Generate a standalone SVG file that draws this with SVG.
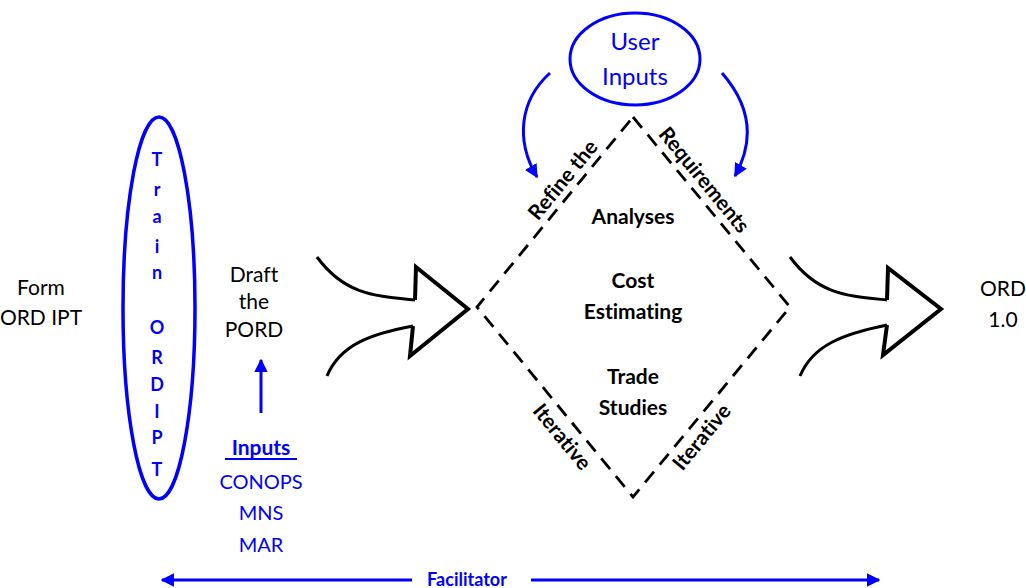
<svg xmlns="http://www.w3.org/2000/svg" width="1026" height="588" viewBox="0 0 1026 588">
<defs>
<style>
text{font-family:Lato,"Liberation Sans",sans-serif;text-anchor:middle;font-variant-ligatures:none}
.blk{fill:#000;font-size:21px}
.blu{fill:#0000ff}
.bold{font-weight:bold}
.inner{font-size:21px;font-weight:bold;fill:#000}
.side{font-size:21px;font-weight:bold;fill:#000}
.train{font-size:18px;font-weight:bold;fill:#0000ff}
.bigarrow{fill:none;stroke:#000;stroke-width:3;stroke-linejoin:miter}
.head{fill:none;stroke:#000;stroke-width:4;stroke-linejoin:miter}
.blueline{fill:none;stroke:#0000ff;stroke-width:3}
.dash{fill:none;stroke:#000;stroke-width:2.8;stroke-dasharray:14 9}
</style>
<marker id="ah" viewBox="0 0 10 10" refX="9" refY="5" markerWidth="4.5" markerHeight="4.5" orient="auto" markerUnits="strokeWidth">
<path d="M0,0 L10,5 L0,10 z" fill="#0000ff"/>
</marker>
</defs>
<rect width="1026" height="588" fill="#fff"/>

<g id="form">
<text class="blk" x="41" y="295">Form</text>
<text class="blk" x="41" y="325">ORD IPT</text>
</g>

<g id="train">
<ellipse cx="159" cy="308" rx="36" ry="191" fill="none" stroke="#0000ff" stroke-width="3.5"/>
<text class="train" x="157" y="166">T</text>
<text class="train" x="157" y="196">r</text>
<text class="train" x="157" y="223">a</text>
<text class="train" x="157" y="253">i</text>
<text class="train" x="157" y="279">n</text>
<text class="train" x="157" y="334">O</text>
<text class="train" x="157" y="364">R</text>
<text class="train" x="157" y="391">D</text>
<text class="train" x="157" y="418">I</text>
<text class="train" x="157" y="444">P</text>
<text class="train" x="157" y="476">T</text>
</g>

<g id="draft">
<text class="blk" x="254" y="282">Draft</text>
<text class="blk" x="254" y="309">the</text>
<text class="blk" x="254" y="337">PORD</text>
</g>

<g id="inputs">
<text class="blu bold" x="261" y="455" font-size="21">Inputs</text>
<line x1="225" y1="459" x2="297" y2="459" stroke="#0000ff" stroke-width="2"/>
<text class="blu" x="261" y="489" font-size="20">CONOPS</text>
<text class="blu" x="261" y="520" font-size="20">MNS</text>
<text class="blu" x="261" y="552" font-size="20">MAR</text>
</g>

<g id="user-inputs">
<ellipse cx="635" cy="59" rx="65" ry="46" fill="none" stroke="#0000ff" stroke-width="3"/>
<text class="blu" x="635" y="50" font-size="24">User</text>
<text class="blu" x="635" y="85" font-size="24">Inputs</text>
</g>

<g id="process">
<path class="dash" d="M633,117 L790,307 L633,497 L477,307 Z"/>
<text class="inner" x="633" y="224">Analyses</text>
<text class="inner" x="633" y="288">Cost</text>
<text class="inner" x="633" y="319">Estimating</text>
<text class="inner" x="633" y="384">Trade</text>
<text class="inner" x="633" y="415">Studies</text>
<text class="side" transform="translate(563,180) rotate(-50.6)" y="7">Refine the</text>
<text class="side" transform="translate(704,180) rotate(50.6)" y="7">Requirements</text>
<text class="side" transform="translate(562,437) rotate(50.6)" y="7">Iterative</text>
<text class="side" transform="translate(702,437) rotate(-50.6)" y="7">Iterative</text>
</g>

<g id="ord">
<text class="blk" x="1003" y="296" font-size="22">ORD</text>
<text class="blk" x="1003" y="327" font-size="22">1.0</text>
</g>

<g id="connectors">
<path class="bigarrow" d="M317,257 C345,295 375,296 415,300"/>
<path class="bigarrow" d="M413,326 C370,334 340,345 327,376"/>
<path class="head" d="M415,300 L416,267 L468,309 L410,356 L413,326"/>
<path class="bigarrow" d="M790,257 C818,295 848,296 887,300"/>
<path class="bigarrow" d="M887,325 C843,334 813,345 800,376"/>
<path class="head" d="M887,300 L888,268 L941,309 L883,355 L887,325"/>
<line class="blueline" x1="261" y1="413" x2="261" y2="360" marker-end="url(#ah)"/>
<path class="blueline" d="M550,73 C520,100 515,140 537,177" marker-end="url(#ah)"/>
<path class="blueline" d="M722,73 C750,105 755,140 735,176" marker-end="url(#ah)"/>
<line class="blueline" x1="412" y1="580" x2="162" y2="580" marker-end="url(#ah)"/>
<line class="blueline" x1="531" y1="580" x2="879" y2="580" marker-end="url(#ah)"/>
<text class="blu bold" x="467" y="586" font-size="18">Facilitator</text>
</g>
</svg>
